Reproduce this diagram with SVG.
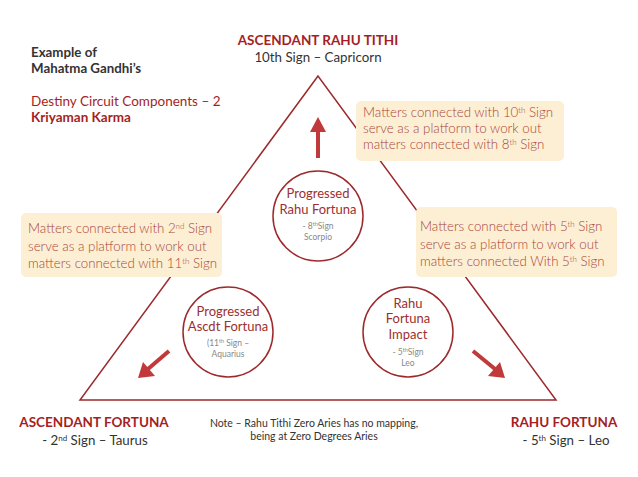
<svg xmlns="http://www.w3.org/2000/svg" width="638" height="477" viewBox="0 0 638 477">
<defs>
<style>
text{font-family:Lato,"Open Sans","Liberation Sans",sans-serif}
.hd{font-weight:700;fill:#a51e24;font-size:13.5px}
.dk{fill:#333;font-size:13.3px}
.dkb{fill:#333;font-size:13.3px;font-weight:700}
.red{fill:#a51e24;font-size:13.5px}
.box{fill:#fdefd3}
.bt{fill:#a8453b;font-size:13.3px;font-weight:300}
.ct{fill:#9c2f2f;font-size:13px}
.cs{fill:#888;font-size:8.5px}
.note{fill:#333;font-size:10.5px}
.tri{fill:none;stroke:#9c2a2d;stroke-width:1.5}
.circ{fill:#fff;stroke:#9c2a2d;stroke-width:1.5}
.arr{stroke:#c0393b;stroke-width:4;fill:none}
.ah{fill:#c0393b}
</style>
</defs>
<rect width="638" height="477" fill="#fff"/>
<g id="connectors">
<polygon class="tri" points="318,76 80,400 556,400"/>
<line class="arr" x1="318" y1="158" x2="318" y2="130"/>
<polygon class="ah" points="318,117 310,132 326,132"/>
<line class="arr" x1="169" y1="351" x2="148" y2="369"/>
<polygon class="ah" points="138,378 143,362 155,376"/>
<line class="arr" x1="473" y1="351" x2="495" y2="369"/>
<polygon class="ah" points="505,378 488,376 500,362"/>
</g>
<g id="title-left">
<text class="dkb" x="31" y="57">Example of</text>
<text class="dkb" x="31" y="73">Mahatma Gandhi’s</text>
<text class="red" x="31" y="106">Destiny Circuit Components – 2</text>
<text class="hd" x="31" y="122">Kriyaman Karma</text>
</g>
<g id="top-label" text-anchor="middle">
<text class="hd" x="318" y="45">ASCENDANT RAHU TITHI</text>
<text class="dk" x="318" y="62">10th Sign – Capricorn</text>
</g>
<g id="box-top-right">
<rect class="box" x="356" y="101" width="208" height="60" rx="5"/>
<text class="bt" x="363" y="117">Matters connected with 10<tspan font-size="8" dy="-4">th</tspan><tspan dy="4"> Sign</tspan></text>
<text class="bt" x="363" y="133">serve as a platform to work out</text>
<text class="bt" x="363" y="149">matters connected with 8<tspan font-size="8" dy="-4">th</tspan><tspan dy="4"> Sign</tspan></text>
</g>
<g id="box-left">
<rect class="box" x="21" y="213" width="201" height="64" rx="5"/>
<text class="bt" x="28" y="233">Matters connected with 2<tspan font-size="8" dy="-4">nd</tspan><tspan dy="4"> Sign</tspan></text>
<text class="bt" x="28" y="251">serve as a platform to work out</text>
<text class="bt" x="28" y="268">matters connected with 11<tspan font-size="8" dy="-4">th</tspan><tspan dy="4"> Sign</tspan></text>
</g>
<g id="box-right">
<rect class="box" x="416" y="207" width="201" height="70" rx="5"/>
<text class="bt" x="420" y="231">Matters connected with 5<tspan font-size="8" dy="-4">th</tspan><tspan dy="4"> Sign</tspan></text>
<text class="bt" x="420" y="249">serve as a platform to work out</text>
<text class="bt" x="420" y="266">matters connected With 5<tspan font-size="8" dy="-4">th</tspan><tspan dy="4"> Sign</tspan></text>
</g>
<g id="circle-top" text-anchor="middle">
<circle class="circ" cx="318" cy="216" r="45"/>
<text class="ct" x="318" y="198">Progressed</text>
<text class="ct" x="318" y="214">Rahu Fortuna</text>
<text class="cs" x="318" y="229">- 8<tspan font-size="5.5" dy="-3">th</tspan><tspan dy="3">Sign</tspan></text>
<text class="cs" x="318" y="240">Scorpio</text>
</g>
<g id="circle-left" text-anchor="middle">
<circle class="circ" cx="228" cy="332" r="45"/>
<text class="ct" x="228" y="316">Progressed</text>
<text class="ct" x="228" y="331">Ascdt Fortuna</text>
<text class="cs" x="228" y="346">(11<tspan font-size="5.5" dy="-3">th</tspan><tspan dy="3"> Sign –</tspan></text>
<text class="cs" x="228" y="357">Aquarius</text>
</g>
<g id="circle-right" text-anchor="middle">
<circle class="circ" cx="408" cy="332" r="45"/>
<text class="ct" x="408" y="308">Rahu</text>
<text class="ct" x="408" y="323">Fortuna</text>
<text class="ct" x="408" y="339">Impact</text>
<text class="cs" x="408" y="355">- 5<tspan font-size="5.5" dy="-3">th</tspan><tspan dy="3">Sign</tspan></text>
<text class="cs" x="408" y="366">Leo</text>
</g>
<g id="bottom-left" text-anchor="middle">
<text class="hd" x="94" y="427">ASCENDANT FORTUNA</text>
<text class="dk" x="95" y="445">- 2<tspan font-size="8" dy="-4">nd</tspan><tspan dy="4"> Sign – Taurus</tspan></text>
</g>
<g id="bottom-right" text-anchor="middle">
<text class="hd" x="564" y="427">RAHU FORTUNA</text>
<text class="dk" x="566" y="445">- 5<tspan font-size="8" dy="-4">th</tspan><tspan dy="4"> Sign – Leo</tspan></text>
</g>
<g id="note" text-anchor="middle">
<text class="note" x="314" y="427">Note – Rahu Tithi Zero Aries has no mapping,</text>
<text class="note" x="314" y="440">being at Zero Degrees Aries</text>
</g>
</svg>
